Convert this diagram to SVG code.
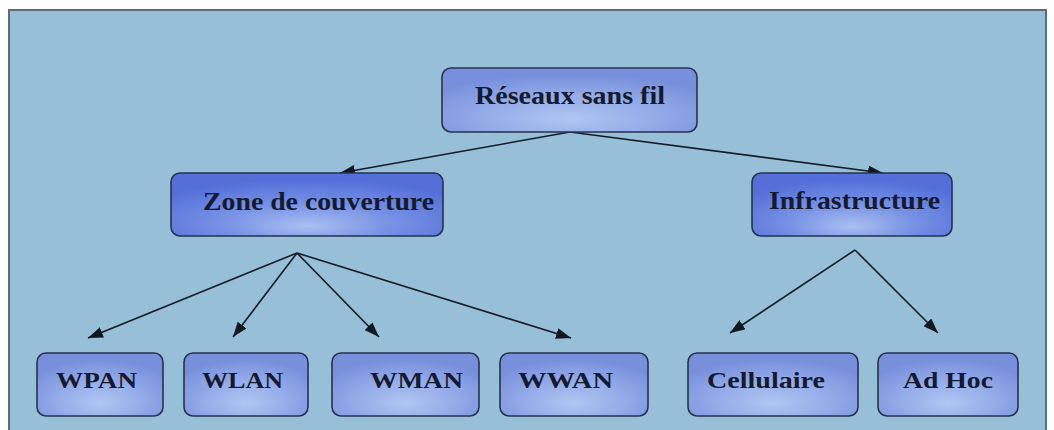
<svg xmlns="http://www.w3.org/2000/svg" width="1054" height="430" viewBox="0 0 1054 430">
  <defs>
    <radialGradient id="gLight" cx="50%" cy="75%" r="65%" fx="50%" fy="80%">
      <stop offset="0" stop-color="#b0c6f2"/>
      <stop offset="0.55" stop-color="#92aae8"/>
      <stop offset="1" stop-color="#7890dc"/>
    </radialGradient>
    <radialGradient id="gDeep" cx="50%" cy="75%" r="65%" fx="50%" fy="85%">
      <stop offset="0" stop-color="#a9c0f2"/>
      <stop offset="0.5" stop-color="#7590e4"/>
      <stop offset="1" stop-color="#5470d8"/>
    </radialGradient>
    <marker id="arrow" viewBox="0 0 15 11" refX="15" refY="5.5" markerWidth="15" markerHeight="11" markerUnits="userSpaceOnUse" orient="auto">
      <path d="M0,0 L15,5.5 L0,11 Z" fill="#111820"/>
    </marker>
    <style>
      .node rect { stroke: #26324e; stroke-width: 1.6; }
      .light rect { fill: url(#gLight); }
      .deep rect { fill: url(#gDeep); }
      .node text { font-family: "Liberation Serif", "Times New Roman", serif; font-weight: bold; fill: #151a30; }
      .lvl0 text, .lvl1 text { font-size: 25px; }
      .lvl2 text { font-size: 23px; }
      .edge { stroke: #151c28; stroke-width: 1.6; fill: none; marker-end: url(#arrow); }
    </style>
  </defs>

  <!-- page background and panel -->
  <rect x="0" y="0" width="1054" height="430" fill="#ffffff"/>
  <rect x="9" y="10" width="1037" height="430" fill="#97bfd7" stroke="#5d6d7c" stroke-width="2"/>

  <!-- connectors -->
  <g id="connectors">
    <line class="edge" x1="570" y1="132" x2="340" y2="173"/>
    <line class="edge" x1="570" y1="132" x2="883" y2="173"/>
    <line class="edge" x1="297" y1="253" x2="88" y2="338"/>
    <line class="edge" x1="297" y1="253" x2="233" y2="337"/>
    <line class="edge" x1="297" y1="253" x2="379" y2="337"/>
    <line class="edge" x1="297" y1="253" x2="571" y2="338"/>
    <line class="edge" x1="855" y1="250" x2="730" y2="333"/>
    <line class="edge" x1="855" y1="250" x2="938" y2="333"/>
  </g>

  <!-- root -->
  <g id="node-reseaux" class="node light lvl0">
    <rect x="442" y="68" width="255" height="64" rx="9"/>
    <text x="475" y="104" textLength="190" lengthAdjust="spacingAndGlyphs">Réseaux sans fil</text>
  </g>

  <!-- level 1 -->
  <g id="node-zone" class="node deep lvl1">
    <rect x="171" y="173" width="272" height="63" rx="9"/>
    <text x="203" y="210" textLength="231" lengthAdjust="spacingAndGlyphs">Zone de couverture</text>
  </g>
  <g id="node-infrastructure" class="node deep lvl1">
    <rect x="752" y="173" width="200" height="63" rx="9"/>
    <text x="769" y="209" textLength="171" lengthAdjust="spacingAndGlyphs">Infrastructure</text>
  </g>

  <!-- level 2 -->
  <g id="node-wpan" class="node light lvl2">
    <rect x="37" y="353" width="126" height="63" rx="9"/>
    <text x="56" y="388" textLength="81" lengthAdjust="spacingAndGlyphs">WPAN</text>
  </g>
  <g id="node-wlan" class="node light lvl2">
    <rect x="184" y="353" width="124" height="63" rx="9"/>
    <text x="202" y="388" textLength="81" lengthAdjust="spacingAndGlyphs">WLAN</text>
  </g>
  <g id="node-wman" class="node light lvl2">
    <rect x="332" y="353" width="147" height="63" rx="9"/>
    <text x="370" y="388" textLength="93" lengthAdjust="spacingAndGlyphs">WMAN</text>
  </g>
  <g id="node-wwan" class="node light lvl2">
    <rect x="500" y="353" width="148" height="63" rx="9"/>
    <text x="518" y="388" textLength="95" lengthAdjust="spacingAndGlyphs">WWAN</text>
  </g>
  <g id="node-cellulaire" class="node light lvl2">
    <rect x="688" y="353" width="170" height="63" rx="9"/>
    <text x="707" y="388" textLength="118" lengthAdjust="spacingAndGlyphs">Cellulaire</text>
  </g>
  <g id="node-adhoc" class="node light lvl2">
    <rect x="878" y="353" width="140" height="63" rx="9"/>
    <text x="903" y="388" textLength="90" lengthAdjust="spacingAndGlyphs">Ad Hoc</text>
  </g>
</svg>
